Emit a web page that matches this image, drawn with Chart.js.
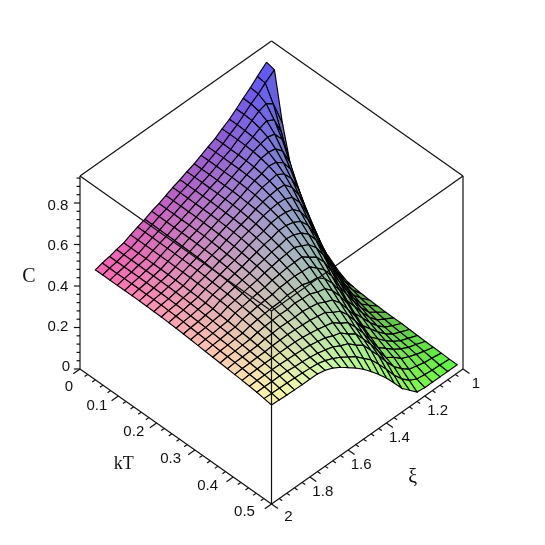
<!DOCTYPE html>
<html>
<head>
<meta charset="utf-8">
<title>C over kT and xi</title>
<script src="https://cdn.jsdelivr.net/npm/chart.js@4"></script>
<style>
  body { margin: 0; background: #fff; }
  canvas { display: block; }
</style>
</head>
<body>
<canvas id="surface" width="545" height="545"></canvas>
<script>
// Tick labels of the three axes
let cTicks = ["0", "0.2", "0.4", "0.6", "0.8"];
let kTTicks = ["0", "0.1", "0.2", "0.3", "0.4", "0.5"];
let xiTicks = ["1", "1.2", "1.4", "1.6", "1.8", "2"];

// Mesh lines of the surface, xi runs from the front to the back
let xiValues = [2, 1.96, 1.92, 1.88, 1.84, 1.8, 1.76, 1.72, 1.68, 1.64, 1.6, 1.56, 1.52,
  1.48, 1.44, 1.4, 1.36, 1.32, 1.28, 1.24, 1.2, 1.16, 1.12, 1.08, 1.03];
let kTStart = [0.04, 0.038, 0.037, 0.035, 0.034, 0.032, 0.03, 0.029, 0.027, 0.026, 0.024, 0.022, 0.021,
  0.019, 0.018, 0.016, 0.014, 0.013, 0.011, 0.01, 0.008, 0.006, 0.005, 0.003, 0.002];
let kTEnd = 0.5;
let kTSteps = 24;

// C, one row for each xi, from low kT to kT = 0.5
let cValues = [
  [.53,.53,.53,.53,.53,.53,.53,.529,.528,.527,.525,.523,.52,.517,.514,.511,.508,.505,.502,.499,.496,.493,.489,.483,.477],
  [.534,.534,.534,.534,.534,.534,.533,.533,.532,.53,.528,.526,.523,.52,.517,.514,.511,.508,.505,.502,.498,.494,.489,.482,.475],
  [.538,.538,.538,.538,.538,.537,.537,.536,.535,.533,.531,.528,.525,.522,.519,.516,.513,.509,.506,.502,.498,.494,.488,.481,.473],
  [.543,.543,.543,.543,.542,.542,.541,.54,.539,.537,.535,.532,.529,.526,.522,.519,.515,.511,.507,.503,.499,.494,.488,.48,.472],
  [.548,.548,.548,.548,.547,.547,.546,.545,.543,.541,.539,.536,.533,.529,.525,.521,.517,.513,.508,.503,.498,.492,.486,.478,.471],
  [.558,.558,.558,.558,.557,.557,.556,.555,.554,.552,.55,.548,.545,.541,.536,.531,.525,.519,.513,.506,.498,.49,.481,.476,.471],
  [.567,.567,.567,.566,.566,.565,.564,.563,.562,.559,.556,.553,.55,.545,.54,.535,.529,.522,.514,.506,.497,.488,.478,.472,.47],
  [.577,.577,.577,.576,.576,.575,.574,.573,.571,.568,.565,.561,.557,.552,.546,.54,.532,.524,.516,.506,.496,.485,.474,.468,.462],
  [.587,.587,.587,.586,.586,.585,.584,.582,.58,.577,.573,.568,.563,.557,.55,.542,.534,.525,.514,.503,.492,.48,.467,.457,.447],
  [.597,.597,.597,.596,.596,.595,.594,.591,.588,.584,.58,.575,.569,.562,.553,.544,.534,.523,.512,.5,.486,.472,.457,.441,.425],
  [.607,.607,.607,.606,.606,.605,.603,.601,.598,.594,.589,.583,.577,.569,.56,.55,.539,.527,.513,.496,.478,.463,.445,.421,.397],
  [.617,.617,.617,.616,.616,.615,.613,.611,.608,.604,.598,.59,.582,.573,.562,.55,.536,.521,.505,.488,.468,.446,.424,.396,.369],
  [.627,.627,.627,.626,.626,.625,.623,.621,.618,.613,.607,.599,.59,.579,.566,.552,.536,.518,.498,.481,.458,.434,.408,.372,.337],
  [.637,.637,.637,.636,.636,.635,.633,.63,.625,.62,.612,.603,.592,.58,.565,.546,.521,.5,.478,.454,.428,.402,.375,.337,.3],
  [.648,.648,.648,.647,.647,.646,.644,.641,.638,.632,.624,.613,.6,.584,.565,.543,.517,.49,.462,.434,.405,.377,.348,.304,.26],
  [.66,.66,.66,.659,.659,.658,.656,.652,.645,.636,.625,.61,.591,.565,.536,.51,.485,.454,.421,.389,.356,.326,.297,.257,.217],
  [.672,.672,.672,.671,.671,.669,.667,.66,.649,.637,.62,.598,.573,.543,.51,.475,.438,.402,.365,.333,.302,.273,.246,.206,.167],
  [.686,.686,.685,.685,.683,.68,.674,.665,.652,.632,.607,.576,.541,.502,.46,.418,.376,.34,.305,.272,.24,.214,.19,.152,.115],
  [.703,.703,.703,.702,.699,.693,.683,.668,.645,.611,.57,.53,.487,.438,.39,.343,.3,.264,.232,.204,.179,.158,.14,.108,.08],
  [.722,.722,.72,.716,.71,.696,.674,.644,.606,.56,.508,.456,.405,.357,.313,.277,.245,.216,.19,.168,.149,.133,.105,.075,.045],
  [.743,.743,.74,.73,.714,.684,.644,.595,.54,.482,.423,.369,.32,.28,.244,.214,.188,.167,.149,.133,.118,.1,.075,.055,.04],
  [.766,.765,.757,.737,.7,.645,.585,.516,.447,.383,.325,.279,.238,.206,.178,.157,.139,.125,.113,.103,.094,.083,.065,.05,.04],
  [.79,.786,.765,.715,.648,.563,.475,.396,.325,.272,.228,.191,.16,.14,.123,.11,.1,.092,.085,.08,.075,.068,.055,.045,.04],
  [.815,.81,.737,.629,.513,.408,.319,.257,.21,.172,.148,.125,.11,.098,.09,.083,.077,.072,.068,.065,.062,.056,.05,.043,.04],
  [.85,.84,.61,.44,.33,.25,.19,.145,.12,.09,.07,.062,.057,.054,.052,.05,.05,.05,.048,.046,.044,.043,.042,.04,.04],
];

let cMax = 0.93;

// Oblique view of the box: kT and xi lean to the two sides, C goes straight up
function planeX(kT, xi) {
  return kT / 0.5 + (2 - xi);
}

function planeY(kT, xi, c) {
  return (2 - xi) * 0.705 - (kT / 0.5) * 0.705 + c * 1.0836;
}

function point3d(kT, xi, c) {
  return { x: planeX(kT, xi), y: planeY(kT, xi, c) };
}

function meshKT(j, i) {
  return kTStart[j] + ((kTEnd - kTStart[j]) * i) / kTSteps;
}

function node(j, i) {
  return point3d(meshKT(j, i), xiValues[j], cValues[j][i]);
}

// Red follows xi, green follows kT and blue follows C
function cellColor(xi, kT, c) {
  let r = Math.round(90 + 165 * (xi - 1));
  let g = Math.round(85 + 165 * (kT / 0.5));
  let b = Math.round(60 + 225 * c);
  return "rgb(" + r + "," + g + "," + b + ")";
}

function segment(a, b) {
  return {
    data: [a, b],
    showLine: true,
    pointRadius: 0,
    borderColor: "#111",
    borderWidth: 1.2,
    fill: false,
  };
}

// Cells are pushed from the back of the box to the front
let cellSets = [];
for (let j = xiValues.length - 2; j >= 0; j--) {
  for (let i = 0; i < kTSteps; i++) {
    let midXi = (xiValues[j] + xiValues[j + 1]) / 2;
    let midKT = (meshKT(j, i) + meshKT(j + 1, i + 1)) / 2;
    let midC = (cValues[j][i] + cValues[j + 1][i + 1] + cValues[j][i + 1] + cValues[j + 1][i]) / 4;
    cellSets.push({
      data: [node(j + 1, i), node(j + 1, i + 1), node(j, i + 1), node(j, i), node(j + 1, i)],
      showLine: true,
      pointRadius: 0,
      borderColor: "#000",
      borderWidth: 1.15,
      backgroundColor: cellColor(midXi, midKT, midC),
      fill: "shape",
    });
  }
}

// Box edges, all of them sit on top of the surface
let boxSets = [
  segment(point3d(0, 2, 0), point3d(0, 2, cMax)),
  segment(point3d(0.5, 1, 0), point3d(0.5, 1, cMax)),
  segment(point3d(0.5, 2, 0), point3d(0.5, 2, cMax)),
  segment(point3d(0, 2, 0), point3d(0.5, 2, 0)),
  segment(point3d(0.5, 2, 0), point3d(0.5, 1, 0)),
  segment(point3d(0, 2, cMax), point3d(0.5, 2, cMax)),
  segment(point3d(0.5, 2, cMax), point3d(0.5, 1, cMax)),
  segment(point3d(0, 2, cMax), point3d(0, 1, cMax)),
  segment(point3d(0, 1, cMax), point3d(0.5, 1, cMax)),
];

// Tick marks, every fifth one is longer
let tickSets = [];
for (let i = 0; i <= 25; i++) {
  let kT = i * 0.02;
  let long = i % 5 === 0;
  tickSets.push(segment(point3d(kT, 2, 0), point3d(kT, long ? 2.035 : 2.016, 0)));
  let xi = 1 + i * 0.04;
  tickSets.push(segment(point3d(0.5, xi, 0), point3d(long ? 0.517 : 0.508, xi, 0)));
}
for (let i = 0; i <= 23; i++) {
  let c = i * 0.04;
  let a = point3d(0, 2, c);
  let shift = i % 5 === 0 ? 0.032 : 0.018;
  tickSets.push(segment(a, { x: a.x - shift, y: a.y }));
}

// Text goes on last, placed from the same scales as the marks
let axisText = {
  id: "axisText",
  afterDraw(chart) {
    let ctx = chart.ctx;
    let sx = chart.scales.x;
    let sy = chart.scales.y;
    function put(text, p, dx, dy, font) {
      ctx.font = font;
      ctx.fillStyle = "#111";
      ctx.textAlign = "center";
      ctx.textBaseline = "middle";
      ctx.fillText(text, sx.getPixelForValue(p.x) + dx, sy.getPixelForValue(p.y) + dy);
    }
    let tickFont = "15px 'Liberation Sans'";
    let titleFont = "18px 'Liberation Serif'";
    cTicks.forEach(function (label) {
      let c = Number(label);
      put(label, point3d(0, 2, c), label === "0" ? -14 : -22, -2 + c * 6, tickFont);
    });
    kTTicks.forEach(function (label) {
      let k = Number(label);
      if (label === "0") {
        put(label, point3d(k, 2, 0), -11, 18, tickFont);
      } else {
        put(label, point3d(k, 2, 0), -20 - k * 14, 10 - k * 4, tickFont);
      }
    });
    xiTicks.forEach(function (label) {
      let last = label === "2";
      put(label, point3d(0.5, Number(label), 0), last ? 17 : 13, last ? 13 : 15, tickFont);
    });
    put("C", point3d(0, 2, 0.45), -51, 1, "20px 'Liberation Serif'");
    put("kT", point3d(0.25, 2, 0), -52, 28, titleFont);
    put("\u03be", point3d(0.5, 1.45, 0), 36, 48, "20px 'Liberation Serif'");
  },
};

try {
  let ctx = document.getElementById("surface").getContext("2d");

  // Chart.js paints the last dataset first, so the list is turned around
  let drawOrder = cellSets.concat(boxSets, tickSets);

  new Chart(ctx, {
    type: "scatter",
    data: { datasets: drawOrder.reverse() },
    options: {
      responsive: false,
      animation: false,
      layout: { padding: 0 },
      plugins: {
        legend: { display: false },
        tooltip: { enabled: false },
      },
      scales: {
        x: { type: "linear", display: false, min: -0.41775, max: 2.4282 },
        y: { type: "linear", display: false, min: -0.91906, max: 1.92689 },
      },
    },
    plugins: [axisText],
  });
} catch (error) {
  console.log("while creating the chart:", error);
}
</script>
</body>
</html>
